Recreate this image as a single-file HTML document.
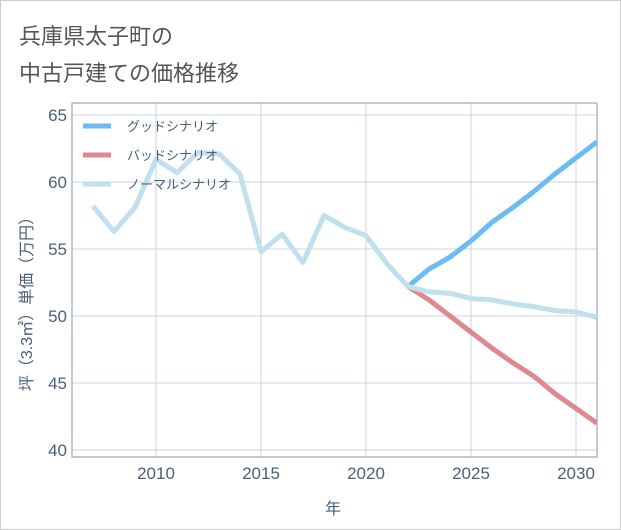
<!DOCTYPE html>
<html><head><meta charset="utf-8"><style>
body{margin:0;background:#fff;}
#wrap{position:relative;width:619px;height:528px;border:1px solid #ccc;background:#fff;font-family:"Liberation Sans","Noto Sans CJK JP",sans-serif;}
.t{position:absolute;left:18px;font-size:22px;color:#555;}
</style></head><body>
<div id="wrap">
<div class="t" style="top:18px">兵庫県太子町の</div>
<div class="t" style="top:55px">中古戸建ての価格推移</div>
<svg id="c" width="621" height="530" style="position:absolute;left:-1px;top:-1px"></svg>
</div>
<script>
const normalYears=[2007,2008,2009,2010,2011,2012,2013,2014,2015,2016,2017,2018,2019,2020,2021,2022,2023,2024,2025,2026,2027,2028,2029,2030,2031];
const normalVals=[58.2,56.3,58.1,61.7,60.7,62.2,62.1,60.6,54.8,56.1,54.0,57.5,56.6,56.0,53.9,52.2,51.8,51.7,51.3,51.2,50.9,50.7,50.4,50.3,49.9];
const futureYears=[2022,2023,2024,2025,2026,2027,2028,2029,2030,2031];
const goodVals=[52.2,53.5,54.4,55.6,57.0,58.1,59.3,60.6,61.8,63.0];
const badVals=[52.2,51.2,50.0,48.8,47.6,46.5,45.5,44.2,43.1,42.0];
const xTicks=[2010,2015,2020,2025,2030];
const yTicks=[40,45,50,55,60,65];
const L=72,R=597,T=103,B=457;
const xs=v=>L+(v-2006)*(R-L)/25;
const ys=v=>450-(v-40)*(450-115)/25;
const svg=document.getElementById('c');const NS='http://www.w3.org/2000/svg';
function mk(tag,attrs,parent){const e=document.createElementNS(NS,tag);for(const k in attrs)e.setAttribute(k,attrs[k]);(parent||svg).appendChild(e);return e;}
const clip=mk('clipPath',{id:'pc'});mk('rect',{x:L,y:T,width:R-L,height:B-T},clip);
xTicks.forEach(v=>{const g=mk('line',{x1:xs(v),x2:xs(v),y1:T,y2:B,stroke:'#c8d6e2','stroke-width':1});

const t=mk('text',{x:xs(v),y:479,'text-anchor':'middle','font-size':17,fill:'#4a6078','font-family':'Liberation Sans, sans-serif'});t.textContent=v;
});
yTicks.forEach(v=>{const g=mk('line',{x1:L,x2:R,y1:ys(v),y2:ys(v),stroke:'#c8d6e2','stroke-width':1});

const t=mk('text',{x:67,y:ys(v)+6,'text-anchor':'end','font-size':17,fill:'#4a6078','font-family':'Liberation Sans, sans-serif'});t.textContent=v;
});
const ax=mk('polyline',{points:`${R},${T} ${L},${T} ${L},${B} ${R},${B} ${R},${T}`,fill:'none',stroke:'#8a96a3','stroke-width':1});

function line(xv,yv,color,name){const p=mk('polyline',{points:xv.map((x,i)=>xs(x)+','+ys(yv[i])).join(' '),fill:'none',stroke:color,'stroke-width':5,'stroke-linejoin':'round','clip-path':'url(#pc)'});
}
line(futureYears,goodVals,'#6bbcf2','good-scenario-line');
line(futureYears,badVals,'#e08890','bad-scenario-line');
line(normalYears,normalVals,'#bfe0ec','normal-scenario-line');
const leg=[['グッドシナリオ','#6bbcf2'],['バッドシナリオ','#e08890'],['ノーマルシナリオ','#bfe0ec']];
leg.forEach((d,i)=>{const y=126+i*29;const l=mk('line',{x1:83,x2:111,y1:y,y2:y,stroke:d[1],'stroke-width':5});

const t=mk('text',{x:127,y:y+5,'font-size':13,fill:'#4a6078','font-family':'Liberation Sans, Noto Sans CJK JP, sans-serif'});t.textContent=d[0];
});
const xt=mk('text',{x:333,y:514,'text-anchor':'middle','font-size':16,fill:'#4a6078','font-family':'Liberation Sans, Noto Sans CJK JP, sans-serif'});xt.textContent='年';

const yt=mk('text',{x:0,y:0,transform:'translate(32,300) rotate(-90)','text-anchor':'middle','font-size':16,fill:'#4a6078','font-family':'Liberation Sans, Noto Sans CJK JP, sans-serif'});yt.textContent='坪（3.3㎡）単価（万円）';

</script>
</body></html>
